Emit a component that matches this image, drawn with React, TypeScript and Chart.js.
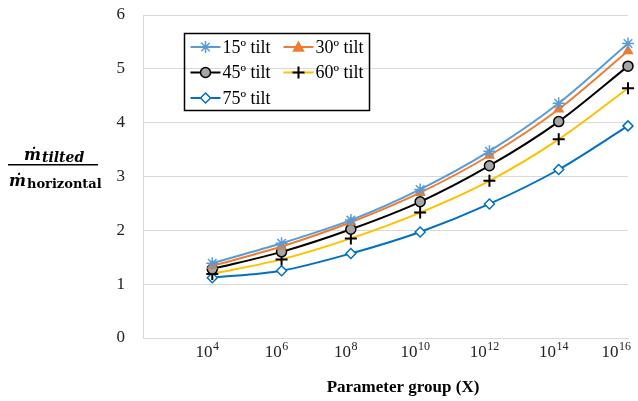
import React, { useEffect, useRef } from "react";
import { Chart, registerables } from "chart.js";

Chart.register(...registerables);

// exponents of the parameter group X (10^n)
const exponents = [4, 6, 8, 10, 12, 14, 16];
const seriesNames = ["15º tilt", "30º tilt", "45º tilt", "60º tilt", "75º tilt"];
const tilt15 = [1.39, 1.76, 2.19, 2.76, 3.47, 4.36, 5.47];
const tilt30 = [1.34, 1.7, 2.15, 2.7, 3.39, 4.25, 5.33];
const tilt45 = [1.28, 1.6, 2.02, 2.53, 3.2, 4.02, 5.05];
const tilt60 = [1.19, 1.46, 1.85, 2.33, 2.92, 3.69, 4.64];
const tilt75 = [1.12, 1.25, 1.57, 1.97, 2.49, 3.13, 3.94];
const yTicks = [0, 1, 2, 3, 4, 5, 6];
const xTickBase = "10";
const xTitle = "Parameter group (X)";

const styles = [
  { line: "#5B9BD5", point: "star", fill: "#5B9BD5", border: "#5B9BD5", r: 6 },
  { line: "#ED7D31", point: "triangle", fill: "#ED7D31", border: "#ED7D31", r: 5 },
  { line: "#000000", point: "circle", fill: "#A5A5A5", border: "#000000", r: 5 },
  { line: "#FFC000", point: "cross", fill: "#000000", border: "#000000", r: 6 },
  { line: "#0070C0", point: "rectRot", fill: "#FFFFFF", border: "#0070C0", r: 5 },
];

function drawMarker(ctx: CanvasRenderingContext2D, st: any, x: number, y: number) {
  ctx.save();
  ctx.lineWidth = 1.5;
  ctx.strokeStyle = st.border;
  ctx.fillStyle = st.fill;
  const r = st.r;
  ctx.beginPath();
  if (st.point === "star") {
    for (let a = 0; a < 4; a++) {
      const ang = (a * Math.PI) / 4;
      ctx.moveTo(x - r * Math.cos(ang), y - r * Math.sin(ang));
      ctx.lineTo(x + r * Math.cos(ang), y + r * Math.sin(ang));
    }
    ctx.stroke();
  } else if (st.point === "triangle") {
    ctx.moveTo(x, y - r);
    ctx.lineTo(x + r, y + r * 0.8);
    ctx.lineTo(x - r, y + r * 0.8);
    ctx.closePath();
    ctx.fill();
    ctx.stroke();
  } else if (st.point === "circle") {
    ctx.arc(x, y, r, 0, Math.PI * 2);
    ctx.fill();
    ctx.stroke();
  } else if (st.point === "cross") {
    ctx.lineWidth = 2;
    ctx.moveTo(x - r, y);
    ctx.lineTo(x + r, y);
    ctx.moveTo(x, y - r);
    ctx.lineTo(x, y + r);
    ctx.stroke();
  } else {
    ctx.moveTo(x, y - r);
    ctx.lineTo(x + r, y);
    ctx.lineTo(x, y + r);
    ctx.lineTo(x - r, y);
    ctx.closePath();
    ctx.fill();
    ctx.stroke();
  }
  ctx.restore();
}

const overlay = {
  id: "overlay",
  afterDraw(chart: any) {
    const ctx: CanvasRenderingContext2D = chart.ctx;
    ctx.save();
    // legend box
    ctx.strokeStyle = "#000";
    ctx.lineWidth = 1.5;
    ctx.strokeRect(184.5, 33.5, 185, 77);
    const cols = [190.5, 283.5];
    const rows = [47, 72.5, 98];
    seriesNames.forEach((name, i) => {
      const st = styles[i];
      const x0 = cols[i % 2];
      const y = rows[Math.floor(i / 2)];
      ctx.strokeStyle = st.line;
      ctx.lineWidth = 2;
      ctx.beginPath();
      ctx.moveTo(x0, y);
      ctx.lineTo(x0 + 30, y);
      ctx.stroke();
      drawMarker(ctx, st, x0 + 15, y);
      ctx.fillStyle = "#000";
      ctx.font = '18px "Liberation Serif"';
      ctx.textBaseline = "middle";
      ctx.textAlign = "left";
      ctx.fillText(name, x0 + 32, y + 1);
    });
    // x tick labels 10^n
    const xs = chart.scales.x;
    ctx.fillStyle = "#222";
    ctx.textBaseline = "alphabetic";
    ctx.textAlign = "left";
    exponents.forEach((e) => {
      const px = xs.getPixelForValue(e) - 5;
      ctx.font = '17px "Liberation Serif"';
      const wb = ctx.measureText(xTickBase).width;
      ctx.font = '12px "Liberation Serif"';
      const we = ctx.measureText(String(e)).width;
      const total = wb + we + 0.5;
      let x0 = px - total / 2;
      if (x0 + total > 631) x0 = 631 - total;
      ctx.font = '17px "Liberation Serif"';
      ctx.fillText(xTickBase, x0, 357);
      ctx.font = '12px "Liberation Serif"';
      ctx.fillText(String(e), x0 + wb + 0.5, 350);
    });
    // x title
    ctx.fillStyle = "#000";
    ctx.font = 'bold 17px "Liberation Serif"';
    ctx.textAlign = "center";
    ctx.textBaseline = "middle";
    ctx.fillText(xTitle, 403, 388);
    // y label fraction
    ctx.textAlign = "left";
    ctx.textBaseline = "alphabetic";
    ctx.font = 'bold italic 16px "DejaVu Serif"';
    ctx.fillText("ṁ", 24, 160);
    let w = ctx.measureText("ṁ").width;
    ctx.font = 'bold italic 14px "DejaVu Serif"';
    ctx.fillText("tilted", 24 + w + 1, 162);
    ctx.fillRect(8, 164, 90, 1.5);
    ctx.font = 'bold italic 16px "DejaVu Serif"';
    ctx.fillText("ṁ", 9, 186);
    w = ctx.measureText("ṁ").width;
    ctx.font = 'bold 13px "DejaVu Serif"';
    ctx.fillText("horizontal", 9 + w + 1, 188);
    ctx.restore();
  },
};

export default function App() {
  const ref = useRef<HTMLCanvasElement>(null);
  useEffect(() => {
    document.body.style.margin = "0";
    const all = [tilt15, tilt30, tilt45, tilt60, tilt75];
    const chart = new Chart(ref.current!, {
      type: "line",
      data: {
        datasets: all.map((vals, i) => ({
          label: seriesNames[i],
          data: exponents.map((e, j) => ({ x: e, y: vals[j] })),
          borderColor: styles[i].line,
          borderWidth: 2,
          backgroundColor: styles[i].fill,
          pointBackgroundColor: styles[i].fill,
          pointBorderColor: styles[i].border,
          pointBorderWidth: i === 3 ? 2 : 1.5,
          pointStyle: styles[i].point as any,
          pointRadius: styles[i].r,
          tension: 0.3,
          clip: false as any,
        })),
      },
      options: {
        animation: false,
        responsive: false,
        layout: { padding: { left: 0, right: 10, top: 15, bottom: 0 } },
        plugins: { legend: { display: false }, tooltip: { enabled: false } },
        scales: {
          x: {
            type: "linear",
            min: 2,
            max: 16,
            grid: { display: false, drawTicks: false },
            border: { display: true, color: "#D9D9D9", width: 1 },
            ticks: { stepSize: 2, display: false },
            afterFit: (s: any) => {
              s.height = 63;
              s.paddingLeft = 0;
              s.paddingRight = 0;
            },
          },
          y: {
            min: 0,
            max: 6,
            grid: { color: "#D9D9D9", drawTicks: false },
            border: { display: true, color: "#D9D9D9" },
            ticks: {
              stepSize: 1,
              padding: 18,
              color: "#222",
              font: { family: "Liberation Serif", size: 17 },
              callback: (v: any) => (yTicks.includes(v) ? String(v) : ""),
            },
            afterFit: (s: any) => {
              s.width = 143;
              s.paddingTop = 0;
              s.paddingBottom = 0;
            },
          },
        },
      },
      plugins: [overlay],
    });
    return () => chart.destroy();
  }, []);
  return <canvas ref={ref} width={638} height={401} style={{ display: "block" }} />;
}
